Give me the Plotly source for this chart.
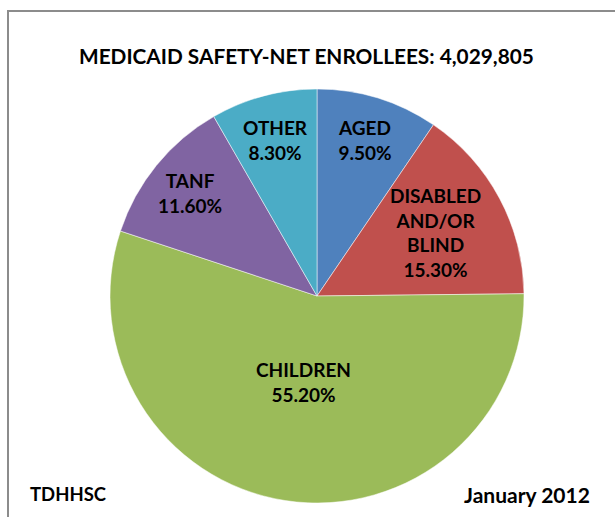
import math
import plotly.graph_objects as go

categories = ["AGED", "DISABLED<br>AND/OR<br>BLIND", "CHILDREN", "TANF", "OTHER"]
shares = [9.5, 15.3, 55.2, 11.6, 8.3]
colors = ["#4F81BD", "#C0504D", "#9BBB59", "#8064A2", "#4BACC6"]
title_text = "MEDICAID SAFETY-NET ENROLLEES: 4,029,805"
left_note = "TDHHSC"
right_note = "January 2012"

W, H = 615, 517
cx, cy, R = 317, 296, 207  # pixel geometry of pie (from top-left)
label_r = [0.79, 0.65, 0.42, 0.79, 0.78]  # label radius fraction per slice
FONT = "Lato, Open Sans, sans-serif"

fig = go.Figure(go.Pie(
    labels=categories, values=shares, sort=False, direction="clockwise",
    rotation=0, marker=dict(colors=colors, line=dict(color="white", width=0.5)),
    textinfo="none", hoverinfo="label+percent", showlegend=False,
    domain=dict(x=[(cx - R) / W, (cx + R) / W], y=[(H - cy - R) / H, (H - cy + R) / H]),
))

total = sum(shares)
cum = 0.0
annotations = []
for cat, v, fr in zip(categories, shares, label_r):
    mid = (cum + v / 2) / total * 2 * math.pi
    cum += v
    px = cx + fr * R * math.sin(mid)
    py = cy - fr * R * math.cos(mid)
    text = "<br>".join(f"<b>{p}</b>" for p in (cat.split("<br>") + [f"{v:.2f}%"]))
    annotations.append(dict(
        x=px / W, y=1 - py / H, xref="paper", yref="paper", showarrow=False,
        text=text, font=dict(family=FONT, size=19, color="black"),
        xanchor="center", yanchor="middle",
    ))

annotations += [
    dict(x=306 / W, y=1 - 56 / H, xref="paper", yref="paper", showarrow=False,
         text=f"<b>{title_text}</b>", font=dict(family=FONT, size=20.8, color="black"),
         xanchor="center", yanchor="middle"),
    dict(x=28 / W, y=1 - 494 / H, xref="paper", yref="paper", showarrow=False,
         text=f"<b>{left_note}</b>", font=dict(family=FONT, size=18.5, color="black"),
         xanchor="left", yanchor="middle"),
    dict(x=592 / W, y=1 - 494 / H, xref="paper", yref="paper", showarrow=False,
         text=f"<b>{right_note}</b>", font=dict(family=FONT, size=21, color="black"),
         xanchor="right", yanchor="middle"),
]

fig.update_layout(
    width=W, height=H, margin=dict(l=0, r=0, t=0, b=0),
    paper_bgcolor="white", plot_bgcolor="white",
    annotations=annotations,
    shapes=[dict(type="rect", xref="paper", yref="paper",
                 x0=8 / W, x1=1.05, y0=-0.05, y1=1 - 11 / H,
                 line=dict(color="#8C8C8C", width=2), fillcolor="rgba(0,0,0,0)",
                 layer="below")],
)
fig.write_html("out.html")
